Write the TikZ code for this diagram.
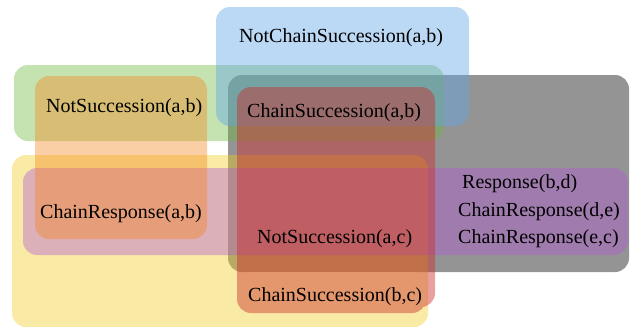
\documentclass[tikz,border=0pt]{standalone}
\usepackage{fontspec}
\setmainfont{Liberation Serif}
\definecolor{cgray}{RGB}{148,148,148}
\definecolor{cyellow}{RGB}{240,202,30}
\definecolor{cpurple}{RGB}{178,90,215}
\definecolor{cgreen}{RGB}{110,185,60}
\definecolor{cblue}{RGB}{100,166,232}
\definecolor{corange}{RGB}{245,129,18}
\definecolor{cred}{RGB}{204,44,44}
\definecolor{cbc}{RGB}{228,150,108}
\tikzset{
  setbox/.style={rounded corners=14pt},
  lbl/.style={anchor=base west, inner sep=0pt, font=\fontsize{20}{24}\selectfont, text=black}
}
\begin{document}
\begin{tikzpicture}[x=1pt,y=-1pt]
\useasboundingbox (0,0) rectangle (630,327);
% sets (bottom to top)
\fill[setbox, cgray] (228,75) rectangle (629,272);
\fill[setbox, cyellow, fill opacity=0.4] (12,155) rectangle (428,327);
\fill[setbox, cpurple, fill opacity=0.4] (23,168) rectangle (628,255);
\fill[setbox, cgreen, fill opacity=0.4] (14,65) rectangle (444,141);
\fill[setbox, cblue, fill opacity=0.44] (216,7) rectangle (469,126);
\fill[setbox, corange, fill opacity=0.38] (35,76) rectangle (207,239);
\fill[setbox, cred, fill opacity=0.45] (237,87) rectangle (435,307);
\fill[setbox, cbc] (237,272) rectangle (426,313);
% labels
\node[lbl] (ncs) at (239,42) {NotChainSuccession(a,b)};
\node[lbl] (nsab) at (46,112) {NotSuccession(a,b)};
\node[lbl] (csab) at (247,117) {ChainSuccession(a,b)};
\node[lbl] (crab) at (40,218) {ChainResponse(a,b)};
\node[lbl] (nsac) at (257,243) {NotSuccession(a,c)};
\node[lbl] (csbc) at (248,301) {ChainSuccession(b,c)};
\node[lbl] (rbd) at (462,188) {Response(b,d)};
\node[lbl] (crde) at (458,216) {ChainResponse(d,e)};
\node[lbl] (crec) at (458,243) {ChainResponse(e,c)};
\end{tikzpicture}
\end{document}
